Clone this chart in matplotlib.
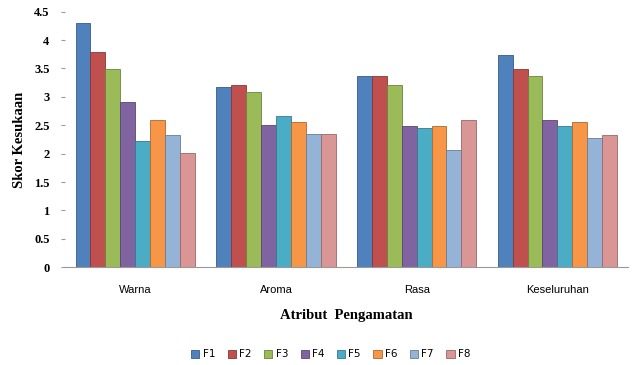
import numpy as np
import matplotlib.pyplot as plt
import matplotlib.colors as mcolors

# Skor kesukaan per atribut untuk tiap formula
atribut = ['Warna', 'Aroma', 'Rasa', 'Keseluruhan']
formula = ['F1', 'F2', 'F3', 'F4', 'F5', 'F6', 'F7', 'F8']
warna = [4.30, 3.79, 3.49, 2.91, 2.22, 2.59, 2.33, 2.01]
aroma = [3.17, 3.21, 3.09, 2.50, 2.66, 2.56, 2.34, 2.34]
rasa = [3.37, 3.37, 3.21, 2.49, 2.45, 2.49, 2.07, 2.59]
keseluruhan = [3.74, 3.49, 3.36, 2.60, 2.49, 2.56, 2.27, 2.33]

warna_bar = ['#4F81BD', '#C0504D', '#9BBB59', '#8064A2',
             '#4BACC6', '#F79646', '#95B3D7', '#D99694']


def darker(c, f=0.7):
    r, g, b = mcolors.to_rgb(c)
    return (r * f, g * f, b * f)


def main():
    skor = np.array([warna, aroma, rasa, keseluruhan])
    x = np.arange(len(atribut))
    lebar = 0.106

    fig = plt.figure(figsize=(6.36, 3.65), dpi=100)
    ax = fig.add_axes([0.102, 0.268, 0.885, 0.7])

    for i, f in enumerate(formula):
        pos = x + (i - 3.5) * lebar
        ax.bar(pos, skor[:, i], width=lebar, color=warna_bar[i],
               edgecolor=darker(warna_bar[i]), linewidth=0.6, label=f)

    ax.set_xlim(-0.5, 3.5)
    ax.set_ylim(0, 4.5)
    ax.set_yticks(np.arange(0, 4.51, 0.5))
    ax.set_yticklabels(['0', '0.5', '1', '1.5', '2', '2.5', '3', '3.5', '4', '4.5'],
                       fontfamily='Liberation Serif', fontweight='bold', fontsize=9)
    ax.set_xticks(x)
    ax.set_xticklabels(atribut, fontfamily='Liberation Sans', fontsize=8)
    ax.tick_params(axis='x', length=0, pad=13)
    ax.tick_params(axis='y', length=3, color='#999999', pad=8)

    for s in ['top', 'right', 'left']:
        ax.spines[s].set_visible(False)
    ax.spines['bottom'].set_color('#999999')

    ax.set_ylabel('Skor Kesukaan', fontfamily='Liberation Serif',
                  fontweight='bold', fontsize=10.5, labelpad=6)
    ax.set_xlabel('Atribut  Pengamatan', fontfamily='Liberation Serif',
                  fontweight='bold', fontsize=10.5, labelpad=10)

    fig.legend(loc='lower center', ncol=8, bbox_to_anchor=(0.52, -0.01),
               frameon=False, fontsize=7.5, handlelength=0.8, handleheight=0.8,
               handletextpad=0.3, columnspacing=1.2)

    fig.savefig('out.png', dpi=100)


if __name__ == '__main__':
    main()
